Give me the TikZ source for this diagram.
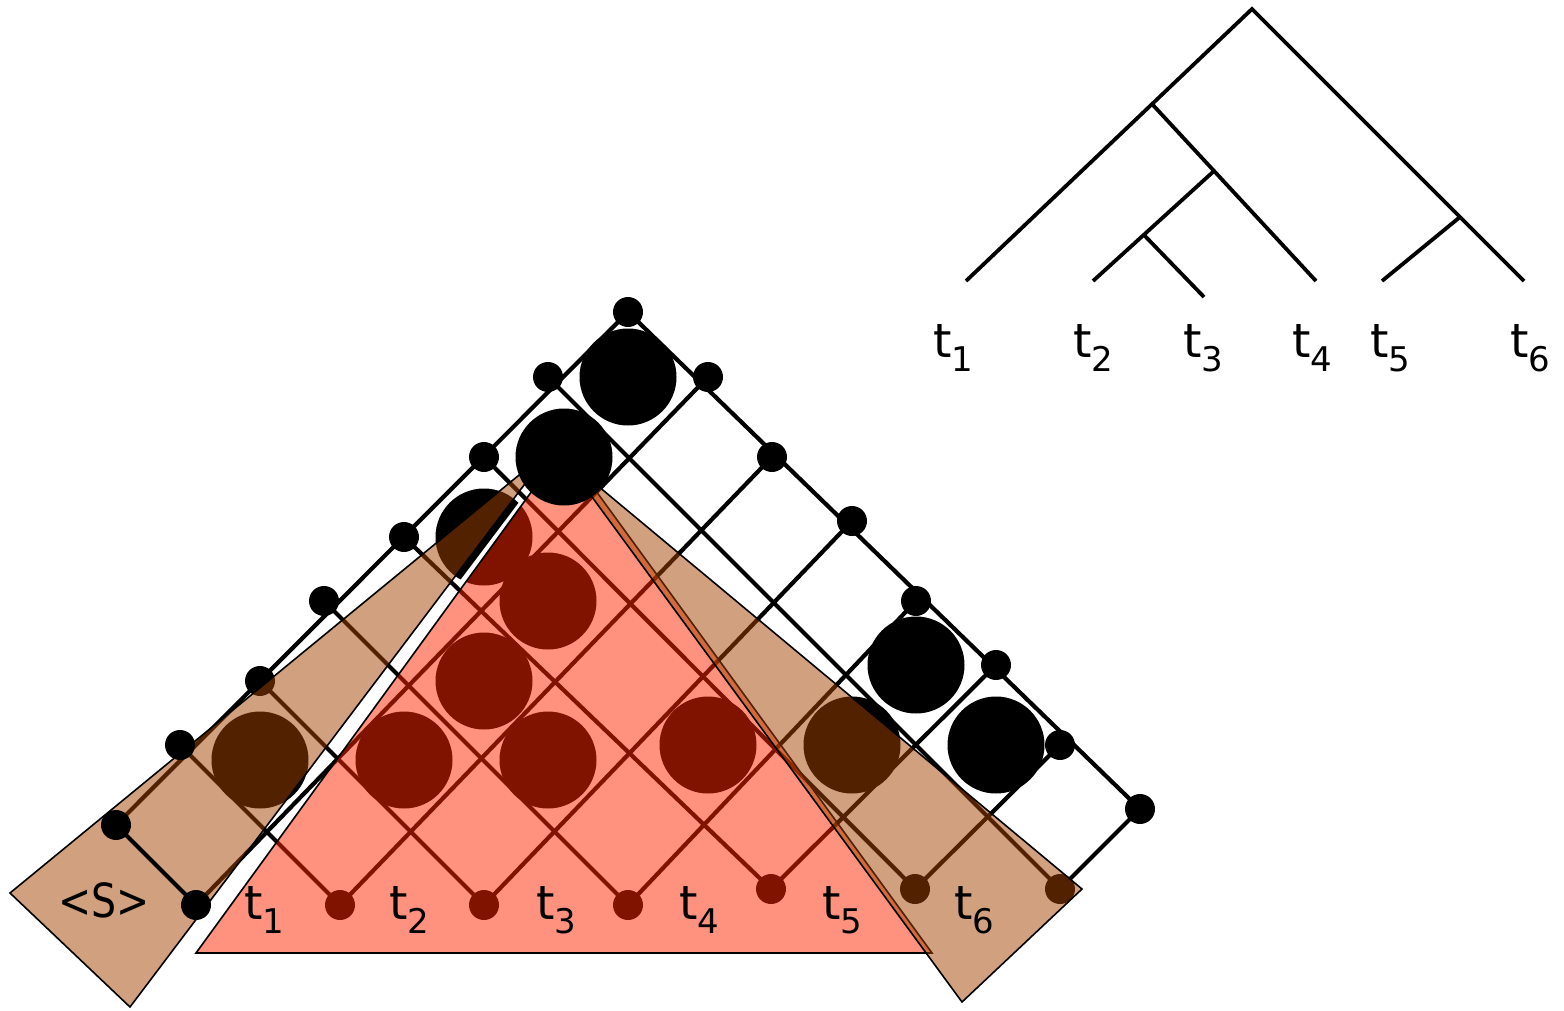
\documentclass[tikz,border=0pt]{standalone}
\usepackage{fontspec}
\setmainfont{DejaVu Sans}
\definecolor{redc}{RGB}{255,38,0}
\definecolor{tanc}{RGB}{164,68,0}
\newcommand\tlab[1]{t\raisebox{-14pt}{\fontsize{34}{34}\selectfont #1}}
\begin{document}
\begin{tikzpicture}[x=1pt,y=-1pt,
  lat/.style={line width=4.2pt},
  dot/.style={circle,fill=black,inner sep=0pt,minimum size=30pt},
  big/.style={circle,fill=black,inner sep=0pt,minimum size=97pt},
  lbl/.style={anchor=base west,inner sep=0pt,font=\fontsize{47}{50}\selectfont},
  treeline/.style={line width=3.8pt},
  redov/.style={fill=redc,fill opacity=0.5,draw=black,line width=1.6pt},
  tanov/.style={fill=tanc,fill opacity=0.5,draw=black,line width=1.6pt}]
\path[use as bounding box] (0,0) rectangle (1564,1010);

% ---------- lattice positions ----------
\coordinate (top) at (628,312);
\coordinate (L1) at (548,377);
\coordinate (L2) at (484,457);
\coordinate (L3) at (404,537);
\coordinate (L4) at (324,601);
\coordinate (L5) at (260,681);
\coordinate (L6) at (180,745);
\coordinate (L7) at (116,825);
\coordinate (R1) at (708,377);
\coordinate (R2) at (772,457);
\coordinate (R3) at (852,521);
\coordinate (R4) at (916,601);
\coordinate (R5) at (996,665);
\coordinate (R6) at (1060,745);
\coordinate (R7) at (1140,809);
\coordinate (B0) at (196,905);
\coordinate (B1) at (340,905);
\coordinate (B2) at (484,905);
\coordinate (B3) at (628,905);
\coordinate (B4) at (771,889);
\coordinate (B5) at (915,889);
\coordinate (B6) at (1060,889);

% ---------- big circles ----------
\node[big] (c1) at (628,377) {};
\node[big] (c3) at (484,537) {};
\node[big] (c4) at (548,601) {};
\node[big] (c5) at (484,681) {};
\node[big] (c6) at (260,760) {};
\node[big] (c7) at (404,760) {};
\node[big] (c8) at (548,760) {};
\node[big] (c9) at (708,745) {};
\node[big] (c10) at (852,745) {};
\node[big] (c11) at (916,665) {};
\node[big] (c12) at (996,745) {};

% white gap between left band and triangle
\fill[white] (179,953) -- (560,448) -- (564,447) -- (196,953) -- cycle;

% ---------- lattice lines ----------
\draw[lat] (B0) -- (R1);
\draw[lat] (B1) -- (R2);
\draw[lat] (B2) -- (R3);
\draw[lat] (B3) -- (R4);
\draw[lat] (B4) -- (R5);
\draw[lat] (B5) -- (R6);
\draw[lat] (B6) -- (R7);
\draw[lat] (L7) -- (top);
\draw[lat] (B6) -- (L1);
\draw[lat] (B5) -- (L2);
\draw[lat] (B4) -- (L3);
\draw[lat] (B3) -- (L4);
\draw[lat] (B2) -- (L5);
\draw[lat] (B1) -- (L6);
\draw[lat] (R7) -- (top);

% ---------- small dots ----------
\foreach \n in {top,L1,L2,L3,L4,L5,R1,R2,R3,R4,R5,R6,R7,B1,B2,B3,B4,B5,B6}
  \node[dot] (d\n) at (\n) {};

% ---------- overlays ----------
\draw[redov] (196,953) -- (932,953) -- (564,447) -- cycle;
\draw[tanov] (10,893) -- (130,1007) -- (552,448) -- cycle;
\draw[tanov] (562,456) -- (1082,889) -- (962,1002) -- cycle;

% ---------- items on top ----------
\draw[lat] (B0) -- (L7);
\node[dot] (dB0) at (B0) {};
\node[dot] (dL7) at (L7) {};
\node[dot] (dL6) at (L6) {};
\node[big] (c2) at (564,457) {};

% ---------- lattice labels ----------
\node[anchor=base,inner sep=0pt,font=\fontsize{47}{50}\selectfont] (ls) at (104,917) {\scalebox{0.84}[1]{<S>}};
\node[lbl] (lt1) at (244,919) {\tlab{1}};
\node[lbl] (lt2) at (389,919) {\tlab{2}};
\node[lbl] (lt3) at (536,919) {\tlab{3}};
\node[lbl] (lt4) at (679,919) {\tlab{4}};
\node[lbl] (lt5) at (822,919) {\tlab{5}};
\node[lbl] (lt6) at (954,919) {\tlab{6}};

% ---------- tree ----------
\coordinate (root) at (1252,9);
\coordinate (a1) at (966,281);
\coordinate (a6) at (1524,281);
\coordinate (nA) at (1152,104);
\coordinate (a4) at (1316,281);
\coordinate (nB) at (1214,171);
\coordinate (a2) at (1093,281);
\coordinate (nC) at (1144,235);
\coordinate (a3) at (1204,297);
\coordinate (nD) at (1460,217);
\coordinate (a5) at (1382,281);
\draw[treeline] (a1) -- (root) -- (a6);
\draw[treeline] (nA) -- (a4);
\draw[treeline] (nB) -- (a2);
\draw[treeline] (nC) -- (a3);
\draw[treeline] (nD) -- (a5);

\node[lbl] (tt1) at (933,357) {\tlab{1}};
\node[lbl] (tt2) at (1073,357) {\tlab{2}};
\node[lbl] (tt3) at (1183,357) {\tlab{3}};
\node[lbl] (tt4) at (1292,357) {\tlab{4}};
\node[lbl] (tt5) at (1370,357) {\tlab{5}};
\node[lbl] (tt6) at (1510,357) {\tlab{6}};
\end{tikzpicture}
\end{document}
